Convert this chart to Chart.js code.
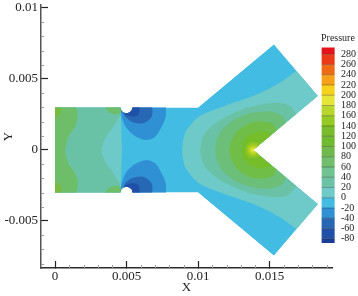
<!DOCTYPE html>
<html><head><meta charset="utf-8">
<script src="https://cdn.jsdelivr.net/npm/chart.js@4/dist/chart.umd.js"></script>
<style>html,body{margin:0;padding:0;background:#fff}canvas{display:block}</style>
</head><body><canvas id="c" width="358" height="296"></canvas>
<script>
// Axis ticks (metres)
const xTicks=[0,0.005,0.01,0.015];
const yTicks=[-0.005,0,0.005,0.01];
const xMinor=[0.001,0.002,0.003,0.004,0.006,0.007,0.008,0.009,0.011,0.012,0.013,0.014,0.016,0.017,0.018,0.019];
const yMinor=[-0.008,-0.007,-0.006,-0.004,-0.003,-0.002,-0.001,0.001,0.002,0.003,0.004,0.006,0.007,0.008,0.009];
const xRange=[-0.00098,0.01937];
const yRange=[-0.00831,0.01021];
// Pressure colour legend
const levels=[280,260,240,220,200,180,160,140,120,100,80,60,40,20,0,-20,-40,-60,-80];
const bandColors=['#e5141c','#ea3a18','#f06a14','#f7a11a','#f7d21c','#e6e63a','#b9d62c','#95c924','#7abc2b','#6fba2f','#6fb94c','#72be6c','#70c290','#6cc2a4','#6ecac8','#42bce2','#2f90d4','#2668b4','#2050a8','#1a3e98'];
const legendTop=293,legendBottom=-88,legendXmid=0.0191;
// Geometry in mm (half domain, mirrored about y = 0)
const domainUpper=[[0,0],[0,3],[4.58,3],[4.636,2.79],[4.79,2.636],[5,2.58],[5.21,2.636],[5.364,2.79],[5.42,3],[10,3],[15.31,7.44],[18.39,3.8],[13.85,0]];
// Contour regions in mm (upper half; each is mirrored)
const c20_left=[[4.69,-.03],[4.65,1],[4.6,2.6],[4.6,3.2],[-.2,3.2],[-.2,-.03]];
const c40_left=[[3.24,-.03],[3.3,.3],[3.57,.94],[4.08,1.64],[4.62,2.6],[4.62,3.2],[-.2,3.2],[-.2,-.03]];
const c60_left=[[.68,-.03],[.93,.94],[1.4,1.64],[1.58,2.35],[1.33,3.2],[-.2,3.2],[-.2,-.03]];
const c60_top=[[3.45,3.2],[3.5,3],[3.85,2.63],[4.31,2.53],[4.7,2.7],[4.7,3.2]];
const c80_corner=[[-.2,3.2],[.47,3.2],[.47,3],[.42,2.6],[.25,2.4],[-.2,2.25]];
const cm40_notch=[[4.6,3.2],[4.62,2.6],[4.73,2.11],[5.01,1.53],[5.59,.99],[6.41,.7],[7,.94],[7.46,1.64],[7.74,2.35],[7.76,3.2]];
const cm60_notch=[[4.7,3.2],[4.83,2.46],[5.36,1.99],[6.17,1.88],[6.76,2.35],[6.8,3.2]];
const cm80_notch=[[4.8,3.2],[4.9,2.53],[5.36,2.35],[5.83,2.46],[5.94,3.2]];
const c20_right=[[8.88,-.03],[8.95,.6],[9.14,1.29],[10.07,2.35],[11.7,3.05],[14.03,3.87],[15.66,4.7],[16.87,5.56],[20,8],[20,-.03]];
const c40_right=[[10.15,-.03],[10.25,.6],[10.54,1.27],[11.7,2.2],[13.57,3.03],[15.43,3.33],[16.36,3.15],[16.87,2.56],[17.5,2],[17.5,-.03]];
const c60_right=[[11.19,-.03],[11.31,.7],[11.77,1.53],[12.7,2.23],[13.63,2.58],[14.33,2.7],[15.2,2.7],[15.9,2.4],[16.17,1.95],[16.8,1.2],[16.8,-.03]];
const c80_right=[[12.17,-.03],[12.35,.7],[12.82,1.41],[13.63,1.88],[14.33,2],[15.2,1.85],[15.54,1.32],[16,.8],[16,-.03]];
const c100_right=[[13.05,-.03],[13.17,.58],[13.63,1.06],[14.33,1.29],[14.9,1.2],[15.3,.9],[15.6,.5],[15.6,-.03]];
const c120_ring=[[13.3,-.03],[13.37,.3],[13.55,.5],[13.85,.58],[14.2,.5],[14.6,.2],[14.6,-.03]];
const c140_ring=[[13.45,-.03],[13.5,.2],[13.65,.35],[13.85,.4],[14.1,.33],[14.4,-.03]];
const c160_ring=[[13.6,-.03],[13.65,.15],[13.85,.25],[14.1,.2],[14.1,-.03]];
const c180_ring=[[13.72,-.03],[13.75,.1],[13.85,.13],[14,.1],[14,-.03]];
// Painted in this order, lower pressures and outer rings first
const layers=[
 [c20_left,'#6ecac8'],[c40_left,'#6ac2a6'],[c60_left,'#6ebd68'],[c60_top,'#6ebd68'],[c80_corner,'#79ba42'],
 [cm40_notch,'#2f90d4'],[cm60_notch,'#2668b4'],[cm80_notch,'#2050a8'],
 [c20_right,'#6ecac8'],[c40_right,'#6ac2a6'],[c60_right,'#6cbf78'],[c80_right,'#70bd48'],[c100_right,'#76bd2a'],
 [c120_ring,'#8cc423'],[c140_ring,'#a6cf20'],[c160_ring,'#c8dc2a'],[c180_ring,'#e6e63a']];
const baseColor='#42bce2';

const mm=p=>({x:p[0]/1000,y:p[1]/1000});
const mmM=p=>({x:p[0]/1000,y:-p[1]/1000});
const domain=domainUpper.map(mm).concat(domainUpper.slice().reverse().map(mmM));
const poly=(data,color)=>({data,backgroundColor:color,borderWidth:0,pointRadius:0,showLine:true,fill:'shape',tension:0.3,xAxisID:'x',yAxisID:'y'});
const ds=[Object.assign(poly(domain,baseColor),{tension:0})];
layers.forEach(([p,col])=>{ds.push(poly(p.map(mm),col));ds.push(poly(p.map(mmM),col));});
ds[ds.length-1]._lastContour=true;
// legend bands: thick vertical strokes on the pressure axis
const bandEdges=[legendTop].concat(levels,[legendBottom]);
bandColors.forEach((col,i)=>{
  ds.push({data:[{x:legendXmid,y:bandEdges[i]},{x:legendXmid,y:bandEdges[i+1]}],borderColor:col,borderWidth:13,borderCapStyle:'butt',pointRadius:0,showLine:true,fill:false,clip:false,xAxisID:'x',yAxisID:'yc'});
});
levels.forEach(v=>{
  ds.push({data:[{x:0.01865,y:v},{x:0.01955,y:v}],borderColor:'rgba(40,30,30,0.35)',borderWidth:1,borderCapStyle:'butt',pointRadius:0,showLine:true,fill:false,clip:false,xAxisID:'x',yAxisID:'yc'});
});
ds.forEach((d,i)=>{d.order=ds.length-i;});

const fixedTicks=list=>s=>{s.ticks=list.map(v=>({value:v}));};
const noPad=s=>{s.paddingTop=s.paddingBottom=s.paddingLeft=s.paddingRight=0;};
const serif='"Liberation Serif","Times New Roman",serif';
const domainClip={id:'domainClip',
  beforeDatasetsDraw(ch){const {ctx,scales:{x,y}}=ch;ctx.save();ctx.beginPath();
    domain.forEach((p,i)=>{const a=x.getPixelForValue(p.x),b=y.getPixelForValue(p.y);i?ctx.lineTo(a,b):ctx.moveTo(a,b);});
    ctx.closePath();ctx.clip();},
  afterDatasetDraw(ch,args){if(ch.data.datasets[args.index]._lastContour)ch.ctx.restore();},
  afterDatasetsDraw(ch){const {ctx,scales:{x,y,yc}}=ch;ctx.save();
    ctx.strokeStyle='#9a9a9a';ctx.lineWidth=1;ctx.beginPath();
    xMinor.forEach(v=>{const p=Math.round(x.getPixelForValue(v))+.5;ctx.moveTo(p,y.bottom);ctx.lineTo(p,y.bottom-3);});
    yMinor.forEach(v=>{const p=Math.round(y.getPixelForValue(v))+.5;ctx.moveTo(x.left,p);ctx.lineTo(x.left+3,p);});
    ctx.stroke();
    ctx.fillStyle='#222';ctx.font='10px '+serif;ctx.textAlign='left';ctx.textBaseline='middle';
    ctx.fillText('Pressure',321,yc.getPixelForValue(310));
    ctx.restore();}
};
new Chart(document.getElementById('c'),{type:'scatter',data:{datasets:ds},plugins:[domainClip],options:{
  responsive:false,animation:false,events:[],
  layout:{padding:{top:5,left:0,right:0,bottom:0}},
  plugins:{legend:{display:false},tooltip:{enabled:false},title:{display:false}},
  scales:{
    x:{type:'linear',position:'bottom',min:xRange[0],max:xRange[1],afterFit:s=>{s.height=28;noPad(s);},afterBuildTicks:fixedTicks(xTicks),
      grid:{drawOnChartArea:false,drawTicks:true,tickLength:-7,tickColor:'#222',tickWidth:1.2},
      border:{display:true,color:'#2a2a2a',width:1.5},
      ticks:{autoSkip:false,maxRotation:0,padding:8,color:'#222',font:{family:serif,size:13},callback:v=>String(v)},
      title:{display:true,text:'X',color:'#222',font:{family:serif,size:13},padding:{top:0,bottom:1}}},
    y:{type:'linear',position:'left',min:yRange[0],max:yRange[1],afterFit:s=>{s.width=41;noPad(s);},afterBuildTicks:fixedTicks(yTicks),
      grid:{drawOnChartArea:false,drawTicks:true,tickLength:-7,tickColor:'#222',tickWidth:1.2},
      border:{display:true,color:'#555',width:1.5},
      ticks:{autoSkip:false,maxRotation:0,padding:10,color:'#222',font:{family:serif,size:13},callback:v=>String(v)},
      title:{display:true,text:'Y',color:'#222',font:{family:serif,size:13},padding:{top:1,bottom:0}}},
    yc:{type:'linear',position:'right',min:-137,max:376,afterFit:s=>{s.width=26;noPad(s);},afterBuildTicks:fixedTicks(levels),
      grid:{display:false,drawTicks:false},border:{display:false},
      ticks:{autoSkip:false,maxRotation:0,padding:9,color:'#222',font:{family:serif,size:10},callback:v=>String(v)}}
  }}});
</script></body></html>
